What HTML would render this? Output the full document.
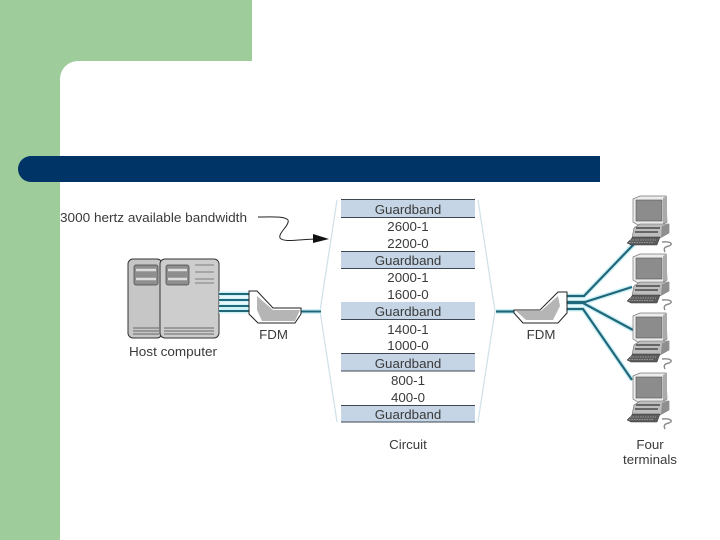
<!DOCTYPE html>
<html><head><meta charset="utf-8"><style>
html,body{margin:0;padding:0;background:#fff}
svg{display:block}
text{font-family:"Liberation Sans",sans-serif;font-size:13.300px;fill:#3a3a3a;text-anchor:middle}
#d{filter:blur(.35px)}
</style></head><body>
<svg width="720" height="540" viewBox="0 0 720 540" xmlns="http://www.w3.org/2000/svg">
<defs>
<g id="term">
  <path d="M633 199L640 196H666L667 222L661 225H638L633 222Z" fill="#ececec" stroke="#777" stroke-width=".7"/>
  <rect x="636" y="200" width="26" height="21" fill="#8c8c8c" stroke="#555" stroke-width=".6"/>
  <path d="M663 198L667 196V221L663 224Z" fill="#aaa"/>
  <path d="M634 228L640 224H669V233L660 238H632Z" fill="#bdbdbd" stroke="#666" stroke-width=".6"/>
  <path d="M662 226L669 224V233L661 237Z" fill="#8f8f8f"/>
  <path d="M636 228H660M635 232H658" stroke="#333" stroke-width="1.200"/>
  <path d="M627 243L633 237H660L657 245H631Z" fill="#5c5c5c" stroke="#333" stroke-width=".5"/>
  <path d="M630 240H656M629 242.500H654" stroke="#aaa" stroke-width=".7" stroke-dasharray="1.500 1"/>
  <path d="M662 242C670 241 674 244 669 246C663 247 664 250 665 252" fill="none" stroke="#8a8a8a" stroke-width="1.400"/>
</g>
</defs>
<rect width="720" height="540" fill="#fff"/>
<path d="M0 0H252V61H78A18 18 0 0 0 60 79V540H0Z" fill="#9fcc9b"/>
<path d="M600 156H31A13 13 0 0 0 31 182H600Z" fill="#003366"/>
<g id="d">
<text x="60" y="222" style="text-anchor:start" textLength="187" lengthAdjust="spacingAndGlyphs">3000 hertz available bandwidth</text>
<path d="M258 217C270 217 285 216 288 220C290 225 278 233 280 238C284 243 300 239 318 239" fill="none" stroke="#222" stroke-width="1"/>
<path d="M313 234L329 239L313 243Z" fill="#111"/>

<path d="M337 200L320 311L337 422" fill="none" stroke="#d2e2ea" stroke-width="1.300"/>
<path d="M478 200L495 311L478 422" fill="none" stroke="#d2e2ea" stroke-width="1.300"/>

<g fill="#c5d5e5">
<rect x="341" y="200" width="134" height="17"/>
<rect x="341" y="251" width="134" height="18"/>
<rect x="341" y="302" width="134" height="17"/>
<rect x="341" y="354" width="134" height="17"/>
<rect x="341" y="405" width="134" height="17"/>
</g>
<g stroke="#3d4652" stroke-width="1">
<path d="M341 199.500H475M341 217.500H475M341 251.500H475M341 268.500H475M341 319.500H475M341 353.500H475M341 371H475M341 405.500H475M341 422H475"/>
</g>
<text x="408" y="214">Guardband</text>
<text x="408" y="231">2600-1</text>
<text x="408" y="248">2200-0</text>
<text x="408" y="265">Guardband</text>
<text x="408" y="282">2000-1</text>
<text x="408" y="299">1600-0</text>
<text x="408" y="316">Guardband</text>
<text x="408" y="334">1400-1</text>
<text x="408" y="350">1000-0</text>
<text x="408" y="368">Guardband</text>
<text x="408" y="385">800-1</text>
<text x="408" y="402">400-0</text>
<text x="408" y="419">Guardband</text>
<text x="408" y="449">Circuit</text>

<!-- host -->
<rect x="128" y="259" width="34" height="79" rx="5" fill="#c6c6c6" stroke="#333" stroke-width="1"/>
<rect x="160" y="259" width="59" height="79" rx="5" fill="#cdcdcd" stroke="#333" stroke-width="1"/>
<rect x="134" y="265" width="24" height="20" rx="2" fill="#8e8e8e" stroke="#444" stroke-width=".7"/>
<rect x="166" y="265" width="23" height="20" rx="2" fill="#8e8e8e" stroke="#444" stroke-width=".7"/>
<path d="M136 270H156M136 279H156M168 270H187M168 279H187" stroke="#ddd" stroke-width="2.400"/>
<path d="M195 265H214M195 272H214M195 279H214M195 283H214" stroke="#666" stroke-width=".8"/>
<path d="M133 328H159M133 331H159M133 334H159M164 328H214M164 331H214M164 334H214" stroke="#666" stroke-width="1"/>
<text x="173" y="356" textLength="88" lengthAdjust="spacingAndGlyphs">Host computer</text>

<!-- host links -->
<path d="M219 294H250M219 300H250M219 306H250M219 311H250M301 311.500H321" stroke="#cdf1f6" stroke-width="5"/>
<path d="M219 294H250M219 300H250M219 306H250M219 311H250M301 311.500H321" stroke="#21677a" stroke-width="2.100"/>

<!-- left FDM -->
<path d="M249 291H257L273 308H301V314L295 323H258L249 314Z" fill="#fff" stroke="#222" stroke-width="1"/>
<path d="M257 296L273 310H300L295 321H262L257 310Z" fill="#b5b5b5"/>
<text x="273.500" y="339">FDM</text>

<!-- right links -->
<path d="M496 311.500H514M567 296H584L635 243M567 302H585L632 287M567 303H583L633 330M567 309H583L632 380" fill="none" stroke="#cdf1f6" stroke-width="5"/>
<path d="M496 311.500H514M567 296H584L635 243M567 302H585L632 287M567 303H583L633 330M567 309H583L632 380" fill="none" stroke="#21677a" stroke-width="2.200"/>

<!-- right FDM -->
<path d="M514 310H540L558 292H567V313L558 323H523L514 313Z" fill="#fff" stroke="#222" stroke-width="1"/>
<path d="M516 311H541L558 296L560 306L553 320H526Z" fill="#b5b5b5"/>
<text x="541" y="339">FDM</text>

<use href="#term"/>
<use href="#term" y="58"/>
<use href="#term" y="117"/>
<use href="#term" y="177"/>

<text x="650" y="449">Four</text>
<text x="650" y="464">terminals</text>
</g>
</svg>
</body></html>
